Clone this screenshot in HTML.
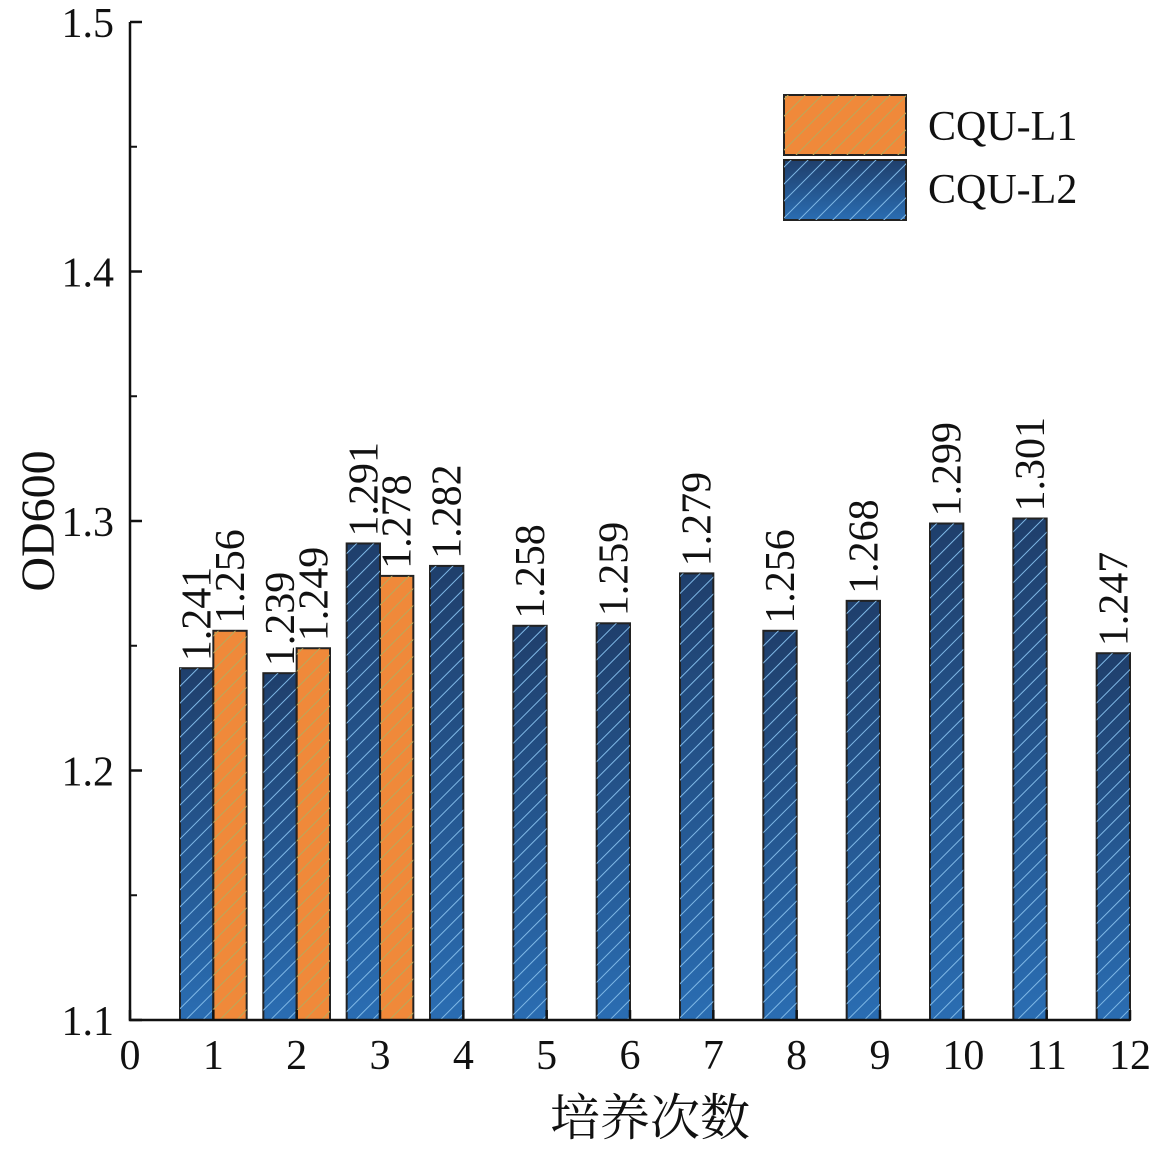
<!DOCTYPE html>
<html><head><meta charset="utf-8"><style>
html,body{margin:0;padding:0;background:#fff;}
svg{display:block;font-family:"Liberation Serif","Noto Serif CJK SC",serif;}
</style></head><body>
<svg id="chart" width="1164" height="1154" viewBox="0 0 1164 1154" xmlns="http://www.w3.org/2000/svg">
<defs>
<linearGradient id="gBlue" x1="0" y1="0" x2="0" y2="1">
<stop offset="0" stop-color="#1f3f6c"/><stop offset="1" stop-color="#2a6db2"/>
</linearGradient>
<pattern id="hBlue" patternUnits="userSpaceOnUse" width="12" height="12" patternTransform="rotate(45)">
<line x1="0" y1="0" x2="0" y2="12" stroke="#7fb8e6" stroke-width="2"/>
</pattern>
<pattern id="hOrange" patternUnits="userSpaceOnUse" width="12" height="12" patternTransform="rotate(45)">
<line x1="0" y1="0" x2="0" y2="12" stroke="#b8a85a" stroke-width="2"/>
</pattern>
</defs>
<g id="bars"></g>
<g id="axes"></g>
<g>
<rect x="784" y="95" width="122" height="60" fill="#f0893a" stroke="#222" stroke-width="2"/>
<rect x="784" y="95" width="122" height="60" fill="url(#hOrange)"/>
<text x="928" y="140" font-size="42" fill="#111">CQU-L1</text>
<rect x="784" y="160" width="122" height="60" fill="url(#gBlue)" stroke="#222" stroke-width="2"/>
<rect x="784" y="160" width="122" height="60" fill="url(#hBlue)"/>
<text x="928" y="203" font-size="42" fill="#111">CQU-L2</text>
</g>
<text x="650" y="1135" font-size="50" text-anchor="middle" fill="#111">培养次数</text>
<text transform="translate(54,521) rotate(-90)" font-size="48" text-anchor="middle" fill="#111">OD600</text>
</svg>
<script>
const categories=[1,2,3,4,5,6,7,8,9,10,11,12];
const l2Values=[1.241,1.239,1.291,1.282,1.258,1.259,1.279,1.256,1.268,1.299,1.301,1.247];
const l1Values=[1.256,1.249,1.278,null,null,null,null,null,null,null,null,null];
const xTicks=[0,1,2,3,4,5,6,7,8,9,10,11,12];
const yTicks=[1.1,1.2,1.3,1.4,1.5];
const NS="http://www.w3.org/2000/svg";
const x=v=>130+v*(1000/12);
const y=v=>1020-(v-1.1)*(998/0.4);
const bw=0.4;
const bars=document.getElementById('bars');
const axes=document.getElementById('axes');
function mk(tag,at,parent){const e=document.createElementNS(NS,tag);for(const k in at)e.setAttribute(k,at[k]);parent.appendChild(e);return e;}
function bar(cat,val,left,series){
  const x0=x(cat+left), w=x(cat+left+bw)-x0, y0=y(val), h=y(1.1)-y0;
  const g=mk('g',{},bars);
  
  
  mk('rect',{x:x0,y:y0,width:w,height:h,fill:series==='l2'?'url(#gBlue)':'#f0893a',stroke:'#222','stroke-width':2},g);
  mk('rect',{x:x0,y:y0,width:w,height:h,fill:series==='l2'?'url(#hBlue)':'url(#hOrange)'},g);
  const t=mk('text',{transform:`translate(${x0+w/2+14},${y0-7}) rotate(-90)`,'font-size':42,fill:'#111'},bars);
  
  
  t.textContent=val.toFixed(3);
}
categories.forEach((c,i)=>{
  bar(c,l2Values[i],-bw,'l2');
  if(l1Values[i]!=null) bar(c,l1Values[i],0,'l1');
});
const ax=mk('path',{d:`M${x(0)},${y(1.5)} V${y(1.1)} H${x(12)}`,fill:'none',stroke:'#111','stroke-width':2.5},axes);


yTicks.forEach(v=>{
  mk('line',{x1:x(0),x2:x(0)+12,y1:y(v),y2:y(v),stroke:'#111','stroke-width':2.5},axes);
  const t=mk('text',{x:x(0)-16,y:y(v)+15,'font-size':42,'text-anchor':'end',fill:'#111'},axes);
  
  
  t.textContent=v.toFixed(1);
});
for(let i=0;i<yTicks.length-1;i++){
  const m=(yTicks[i]+yTicks[i+1])/2;
  mk('line',{x1:x(0),x2:x(0)+7,y1:y(m),y2:y(m),stroke:'#111','stroke-width':2},axes);
}
xTicks.forEach(v=>{
  mk('line',{x1:x(v),x2:x(v),y1:y(1.1),y2:y(1.1)-10,stroke:'#111','stroke-width':2.5},axes);
  const t=mk('text',{x:x(v),y:1069,'font-size':42,'text-anchor':'middle',fill:'#111'},axes);
  
  
  t.textContent=v;
});
</script>
</body></html>
